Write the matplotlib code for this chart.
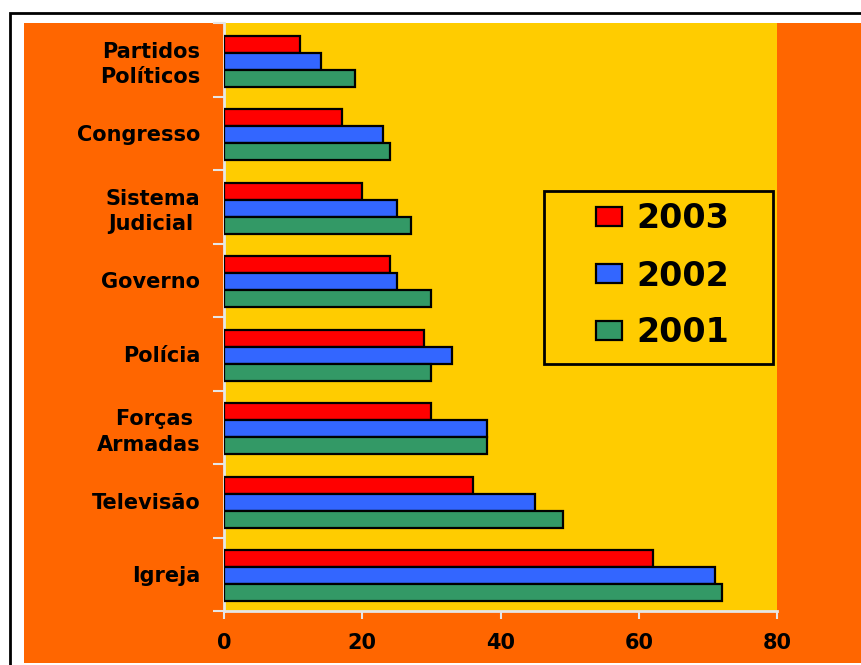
import matplotlib.pyplot as plt
import numpy as np
from matplotlib.patches import Rectangle

plt.rcParams['font.family'] = ['DejaVu Sans']
plt.rcParams['font.weight'] = 'bold'

categories = ['Partidos\nPolíticos', 'Congresso', 'Sistema\nJudicial ', 'Governo',
              'Polícia', 'Forças \nArmadas', 'Televisão', 'Igreja']
years = ['2003', '2002', '2001']
v2003 = [11, 17, 20, 24, 29, 30, 36, 62]
v2002 = [14, 23, 25, 25, 33, 38, 45, 71]
v2001 = [19, 24, 27, 30, 30, 38, 49, 72]
colors = ['#FF0000', '#3366FF', '#339966']

orange = '#FF6600'
yellow = '#FFCC00'
axis_col = '#E6E6E6'

fig = plt.figure(figsize=(8.61, 6.65), dpi=100)
fig.patch.set_facecolor('white')

# orange panel and black frame behind the chart
fig.patches.append(Rectangle((24 / 861, 2 / 665), 1, 1 - 23 / 665 - 2 / 665,
                             transform=fig.transFigure, facecolor=orange,
                             edgecolor='none', zorder=-3))
fig.patches.append(Rectangle((9.5 / 861, -0.1), 1.2, 1.1 - 13.5 / 665,
                             transform=fig.transFigure, facecolor='none',
                             edgecolor='black', linewidth=2, zorder=-2))

ax = fig.add_axes([224 / 861, 1 - 611 / 665, 553 / 861, 588 / 665])
ax.set_facecolor(yellow)

y = np.arange(len(categories))
h = 0.23
for vals, off, c, lab in zip([v2003, v2002, v2001], [-h, 0, h], colors, years):
    ax.barh(y + off + 0.02, vals, height=h, color=c, edgecolor='black',
            linewidth=1.6, label=lab, zorder=3)

ax.set_xlim(0, 80)
ax.set_ylim(len(categories) - 0.5, -0.5)
ax.set_xticks([0, 20, 40, 60, 80])
ax.set_yticks(np.arange(-0.5, len(categories)))
ax.set_yticklabels([])
ax.set_yticks(y, minor=True)
ax.set_yticklabels(categories, minor=True, fontsize=15, fontweight='bold',
                   linespacing=1.35)
ax.tick_params(axis='y', which='minor', length=0, pad=17)
ax.tick_params(axis='y', which='major', length=8, width=1.5, color=axis_col)
ax.tick_params(axis='x', length=6, width=1.5, color=axis_col, pad=10, labelsize=15)
for t in ax.get_xticklabels():
    t.set_fontweight('bold')

for s in ['top', 'right']:
    ax.spines[s].set_visible(False)
for s in ['left', 'bottom']:
    ax.spines[s].set_color(axis_col)
    ax.spines[s].set_linewidth(2)

# legend box
ax.add_patch(Rectangle((320 / 553, (611 - 364) / 588), 229 / 553, 173 / 588,
                       transform=ax.transAxes, facecolor=yellow, edgecolor='black',
                       linewidth=2, zorder=4))
leg = ax.legend(loc='center', bbox_to_anchor=((320 + 229 / 2 + 4) / 553, (611 - 276) / 588),
                frameon=False, prop={'size': 24, 'weight': 'bold'},
                handlelength=0.78, handleheight=0.48, handletextpad=0.42,
                labelspacing=0.72)
leg.set_zorder(5)

fig.savefig('out.png', dpi=100, facecolor='white')
